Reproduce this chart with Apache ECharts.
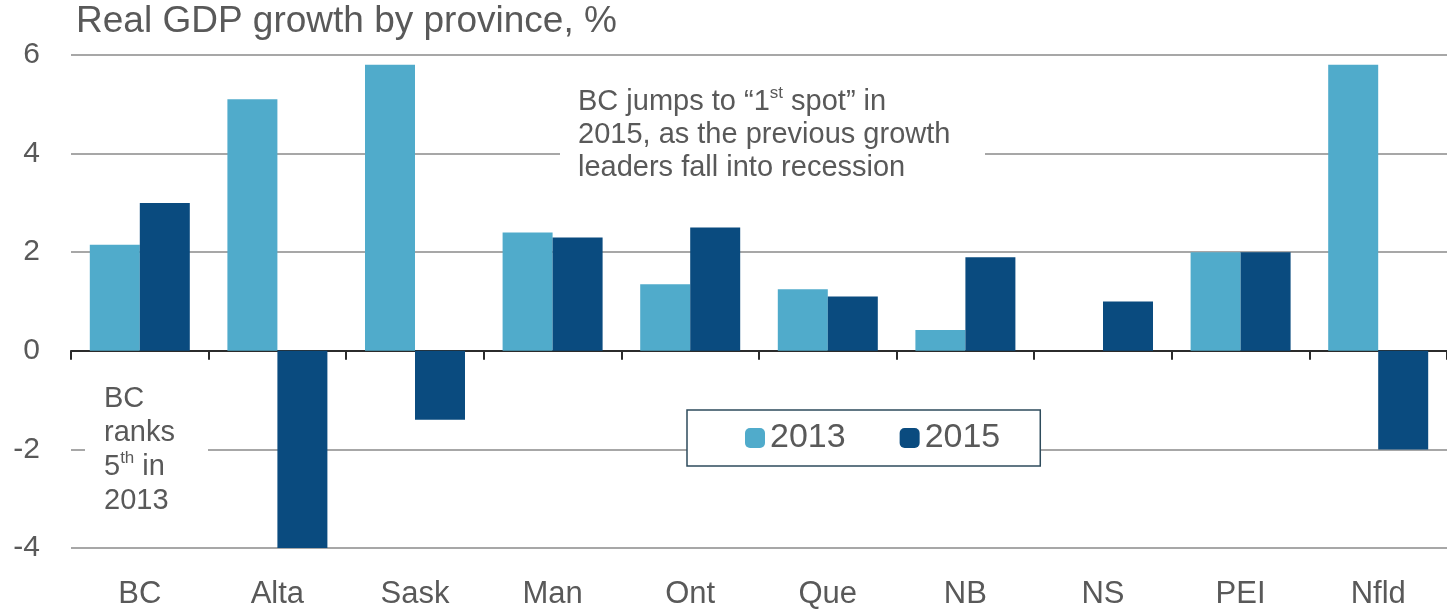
<!DOCTYPE html>
<html>
<head>
<meta charset="utf-8">
<script src="https://cdn.jsdelivr.net/npm/echarts@6/dist/echarts.min.js"></script>
<style>
  html, body { margin: 0; padding: 0; background: #ffffff; }
  #chart { width: 1447px; height: 610px; }
</style>
</head>
<body>
<div id="chart"></div>
<script>
// Provinces along the category axis
const provinces = ['BC', 'Alta', 'Sask', 'Man', 'Ont', 'Que', 'NB', 'NS', 'PEI', 'Nfld'];
// Real GDP growth, %
const growth2013 = [2.15, 5.1, 5.8, 2.4, 1.35, 1.25, 0.42, 0, 2.0, 5.8];
const growth2015 = [3.0, -4.0, -1.4, 2.3, 2.5, 1.1, 1.9, 1.0, 2.0, -2.0];
const seriesNames = ['2013', '2015'];
const yTicks = { min: -4, max: 6, interval: 2 };

const TEXT = '#595959';
const SANS = "'Liberation Sans', Arial, sans-serif";
const LIGHT = '#50ABCB';
const DARK = '#0A4B7F';

const chart = echarts.init(document.getElementById('chart'), null, { renderer: 'canvas' });

chart.setOption({
  backgroundColor: '#ffffff',
  animation: false,
  title: {
    text: 'Real GDP growth by province, %',
    left: 76,
    top: 3,
    padding: 0,
    textStyle: { fontFamily: SANS, fontSize: 37, fontWeight: 'normal', color: TEXT }
  },
  grid: { left: 71, right: 0, top: 55, bottom: 62, containLabel: false },
  legend: {
    data: seriesNames,
    left: 687,
    top: 410,
    orient: 'horizontal',
    padding: [9, 40, 9, 58],
    itemGap: 54,
    itemWidth: 20,
    itemHeight: 20,
    icon: 'roundRect',
    borderColor: '#2E4B5C',
    borderWidth: 1.5,
    borderRadius: 0,
    backgroundColor: '#ffffff',
    z: 20,
    textStyle: { fontFamily: SANS, fontSize: 34, color: TEXT, lineHeight: 38 }
  },
  xAxis: [
    {
      type: 'category',
      data: provinces,
      position: 'bottom',
      axisLine: { onZero: true, lineStyle: { color: '#2b2b2b', width: 2 } },
      axisTick: { show: true, length: 9, lineStyle: { color: '#2b2b2b', width: 2 } },
      axisLabel: { show: false },
      splitLine: { show: false }
    },
    {
      type: 'category',
      data: provinces,
      position: 'bottom',
      axisLine: { show: false, onZero: false },
      axisTick: { show: false },
      axisLabel: { show: true, margin: 31, fontFamily: SANS, fontSize: 31, color: TEXT },
      splitLine: { show: false }
    }
  ],
  yAxis: {
    type: 'value',
    min: yTicks.min,
    max: yTicks.max,
    interval: yTicks.interval,
    axisLine: { show: false },
    axisTick: { show: false },
    axisLabel: { margin: 31, fontFamily: SANS, fontSize: 30, color: TEXT },
    splitLine: { show: true, lineStyle: { color: '#8a8a8a', width: 1.5 } }
  },
  series: [
    {
      name: seriesNames[0],
      type: 'bar',
      xAxisIndex: 0,
      data: growth2013,
      barWidth: 50,
      barGap: '0%',
      itemStyle: { color: LIGHT }
    },
    {
      name: seriesNames[1],
      type: 'bar',
      xAxisIndex: 0,
      data: growth2015,
      barWidth: 50,
      barGap: '0%',
      itemStyle: { color: DARK }
    }
  ],
  graphic: [
    // white panels behind the call-outs so gridlines stop at the text
    { type: 'rect', z: 10, shape: { x: 560, y: 84, width: 425, height: 100 }, style: { fill: '#ffffff' } },
    {
      type: 'text', z: 11, left: 578, top: 85,
      style: {
        text: 'BC jumps to “1{sup|st} spot” in\n2015, as the previous growth\nleaders fall into recession',
        fontFamily: SANS, fontSize: 29, lineHeight: 33, fill: TEXT,
        rich: { sup: { fontFamily: SANS, fontSize: 17, lineHeight: 20, verticalAlign: 'top', fill: TEXT } }
      }
    },
    { type: 'rect', z: 10, shape: { x: 85, y: 378, width: 123, height: 140 }, style: { fill: '#ffffff' } },
    {
      type: 'text', z: 11, left: 104, top: 382,
      style: {
        text: 'BC\nranks\n5{sup|th} in\n2013',
        fontFamily: SANS, fontSize: 29, lineHeight: 34, fill: TEXT,
        rich: { sup: { fontFamily: SANS, fontSize: 17, lineHeight: 20, verticalAlign: 'top', fill: TEXT } }
      }
    }
  ]
});
</script>
</body>
</html>
